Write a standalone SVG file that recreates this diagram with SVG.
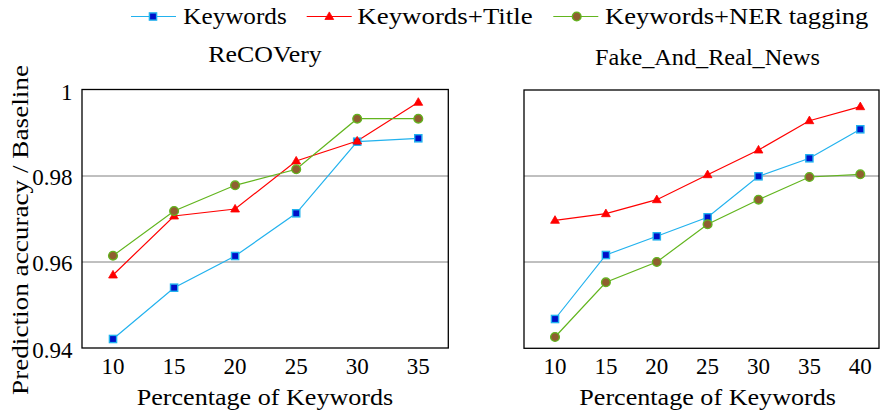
<svg xmlns="http://www.w3.org/2000/svg" width="889" height="411" viewBox="0 0 889 411">
<defs>
<style>
text{font-family:"Liberation Serif",Tinos,"Times New Roman",Times,"DejaVu Serif","Noto Serif","Nimbus Roman","Nimbus Roman No9 L",FreeSerif,"TeX Gyre Termes","Latin Modern Roman","CMU Serif",serif;font-size:23px;fill:#000}
.tk{text-anchor:middle}
.yt{text-anchor:end}
.frame{fill:none;stroke:#000;stroke-width:1.3}
.grid{stroke:#808080;stroke-width:1}
.lb{fill:none;stroke:#22b2ee;stroke-width:1.2}
.lr{fill:none;stroke:#ff0000;stroke-width:1.2}
.lg{fill:none;stroke:#62b51e;stroke-width:1.2}
</style>
<rect id="mb" x="-3.6" y="-3.6" width="7.2" height="7.2" fill="#0010c8" stroke="#22b2ee" stroke-width="1.4"/>
<path id="mr" d="M0,-4.6 L4.4,3 L-4.4,3 Z" fill="#ff0000" stroke="#ff0000" stroke-width="0.8"/>
<circle id="mg" r="4.4" fill="#8f5f30" stroke="#62b51e" stroke-width="1.3"/>
</defs>
<rect width="889" height="411" fill="#fff"/>

<g id="legend">
<line class="lb" x1="131" y1="16.5" x2="176" y2="16.5"/>
<use href="#mb" x="153" y="16.5"/>
<text x="183.3" y="24" textLength="103.4" lengthAdjust="spacingAndGlyphs">Keywords</text>
<line class="lr" x1="306.7" y1="16.5" x2="351.7" y2="16.5"/>
<use href="#mr" x="329.3" y="16.5"/>
<text x="357.3" y="24" textLength="175.4" lengthAdjust="spacingAndGlyphs">Keywords+Title</text>
<line class="lg" x1="553.3" y1="16.5" x2="598.3" y2="16.5"/>
<use href="#mg" x="576.7" y="16.5"/>
<text x="605" y="24" textLength="263.3" lengthAdjust="spacingAndGlyphs">Keywords+NER tagging</text>
</g>

<g id="plot-left">
<text x="208.3" y="61.7" textLength="113.4" lengthAdjust="spacingAndGlyphs">ReCOVery</text>
<line class="grid" x1="82" y1="176" x2="448.3" y2="176"/>
<line class="grid" x1="82" y1="262" x2="448.3" y2="262"/>
<rect class="frame" x="82" y="89.5" width="366.3" height="258.5"/>
<text class="yt" x="72.5" y="99.5">1</text>
<text class="yt" x="72.5" y="184.5">0.98</text>
<text class="yt" x="72.5" y="271">0.96</text>
<text class="yt" x="72.5" y="357.5">0.94</text>
<text class="tk" x="113" y="374">10</text>
<text class="tk" x="174.1" y="374">15</text>
<text class="tk" x="235.1" y="374">20</text>
<text class="tk" x="296.2" y="374">25</text>
<text class="tk" x="357.2" y="374">30</text>
<text class="tk" x="418.3" y="374">35</text>
<text x="136.7" y="405" textLength="256.6" lengthAdjust="spacingAndGlyphs">Percentage of Keywords</text>
<text transform="translate(27.5,230) rotate(-90)" x="-165" y="0" textLength="330" lengthAdjust="spacingAndGlyphs">Prediction accuracy / Baseline</text>
</g>

<g id="plot-right">
<text x="595" y="65" textLength="225" lengthAdjust="spacingAndGlyphs">Fake_And_Real_News</text>
<line class="grid" x1="524" y1="176" x2="879" y2="176"/>
<line class="grid" x1="524" y1="262" x2="879" y2="262"/>
<rect class="frame" x="524" y="90" width="355" height="258.3"/>
<text class="tk" x="555" y="374">10</text>
<text class="tk" x="605.9" y="374">15</text>
<text class="tk" x="656.8" y="374">20</text>
<text class="tk" x="707.6" y="374">25</text>
<text class="tk" x="758.5" y="374">30</text>
<text class="tk" x="809.4" y="374">35</text>
<text class="tk" x="860.3" y="374">40</text>
<text x="579.3" y="405" textLength="256.7" lengthAdjust="spacingAndGlyphs">Percentage of Keywords</text>
</g>

<g id="connectors">
<polyline class="lb" points="113,339 174.1,287.7 235.1,256 296.2,213.3 357.2,141.7 418.3,138.3"/>
<polyline class="lr" points="113,275 174.1,216 235.1,209 296.2,161 357.2,141 418.3,102.3"/>
<polyline class="lg" points="113,255.7 174.1,211 235.1,185.3 296.2,169.3 357.2,118.7 418.3,118.7"/>
<polyline class="lr" points="555,220.3 605.9,213.7 656.8,199.7 707.6,174.7 758.5,150 809.4,120.7 860.3,106.7"/>
<polyline class="lb" points="555,319 605.9,255 656.8,236.3 707.6,217.3 758.5,176.3 809.4,158.3 860.3,129.3"/>
<polyline class="lg" points="555,337 605.9,282.3 656.8,262 707.6,224.3 758.5,199.7 809.4,177 860.3,174.3"/>
</g>

<g id="markers">
<use href="#mb" x="113" y="339"/><use href="#mb" x="174.1" y="287.7"/><use href="#mb" x="235.1" y="256"/><use href="#mb" x="296.2" y="213.3"/><use href="#mb" x="357.2" y="141.7"/><use href="#mb" x="418.3" y="138.3"/>
<use href="#mr" x="113" y="275"/><use href="#mr" x="174.1" y="216"/><use href="#mr" x="235.1" y="209"/><use href="#mr" x="296.2" y="161"/><use href="#mr" x="357.2" y="141"/><use href="#mr" x="418.3" y="102.3"/>
<use href="#mg" x="113" y="255.7"/><use href="#mg" x="174.1" y="211"/><use href="#mg" x="235.1" y="185.3"/><use href="#mg" x="296.2" y="169.3"/><use href="#mg" x="357.2" y="118.7"/><use href="#mg" x="418.3" y="118.7"/>
<use href="#mr" x="555" y="220.3"/><use href="#mr" x="605.9" y="213.7"/><use href="#mr" x="656.8" y="199.7"/><use href="#mr" x="707.6" y="174.7"/><use href="#mr" x="758.5" y="150"/><use href="#mr" x="809.4" y="120.7"/><use href="#mr" x="860.3" y="106.7"/>
<use href="#mb" x="555" y="319"/><use href="#mb" x="605.9" y="255"/><use href="#mb" x="656.8" y="236.3"/><use href="#mb" x="707.6" y="217.3"/><use href="#mb" x="758.5" y="176.3"/><use href="#mb" x="809.4" y="158.3"/><use href="#mb" x="860.3" y="129.3"/>
<use href="#mg" x="555" y="337"/><use href="#mg" x="605.9" y="282.3"/><use href="#mg" x="656.8" y="262"/><use href="#mg" x="707.6" y="224.3"/><use href="#mg" x="758.5" y="199.7"/><use href="#mg" x="809.4" y="177"/><use href="#mg" x="860.3" y="174.3"/>
</g>
</svg>
